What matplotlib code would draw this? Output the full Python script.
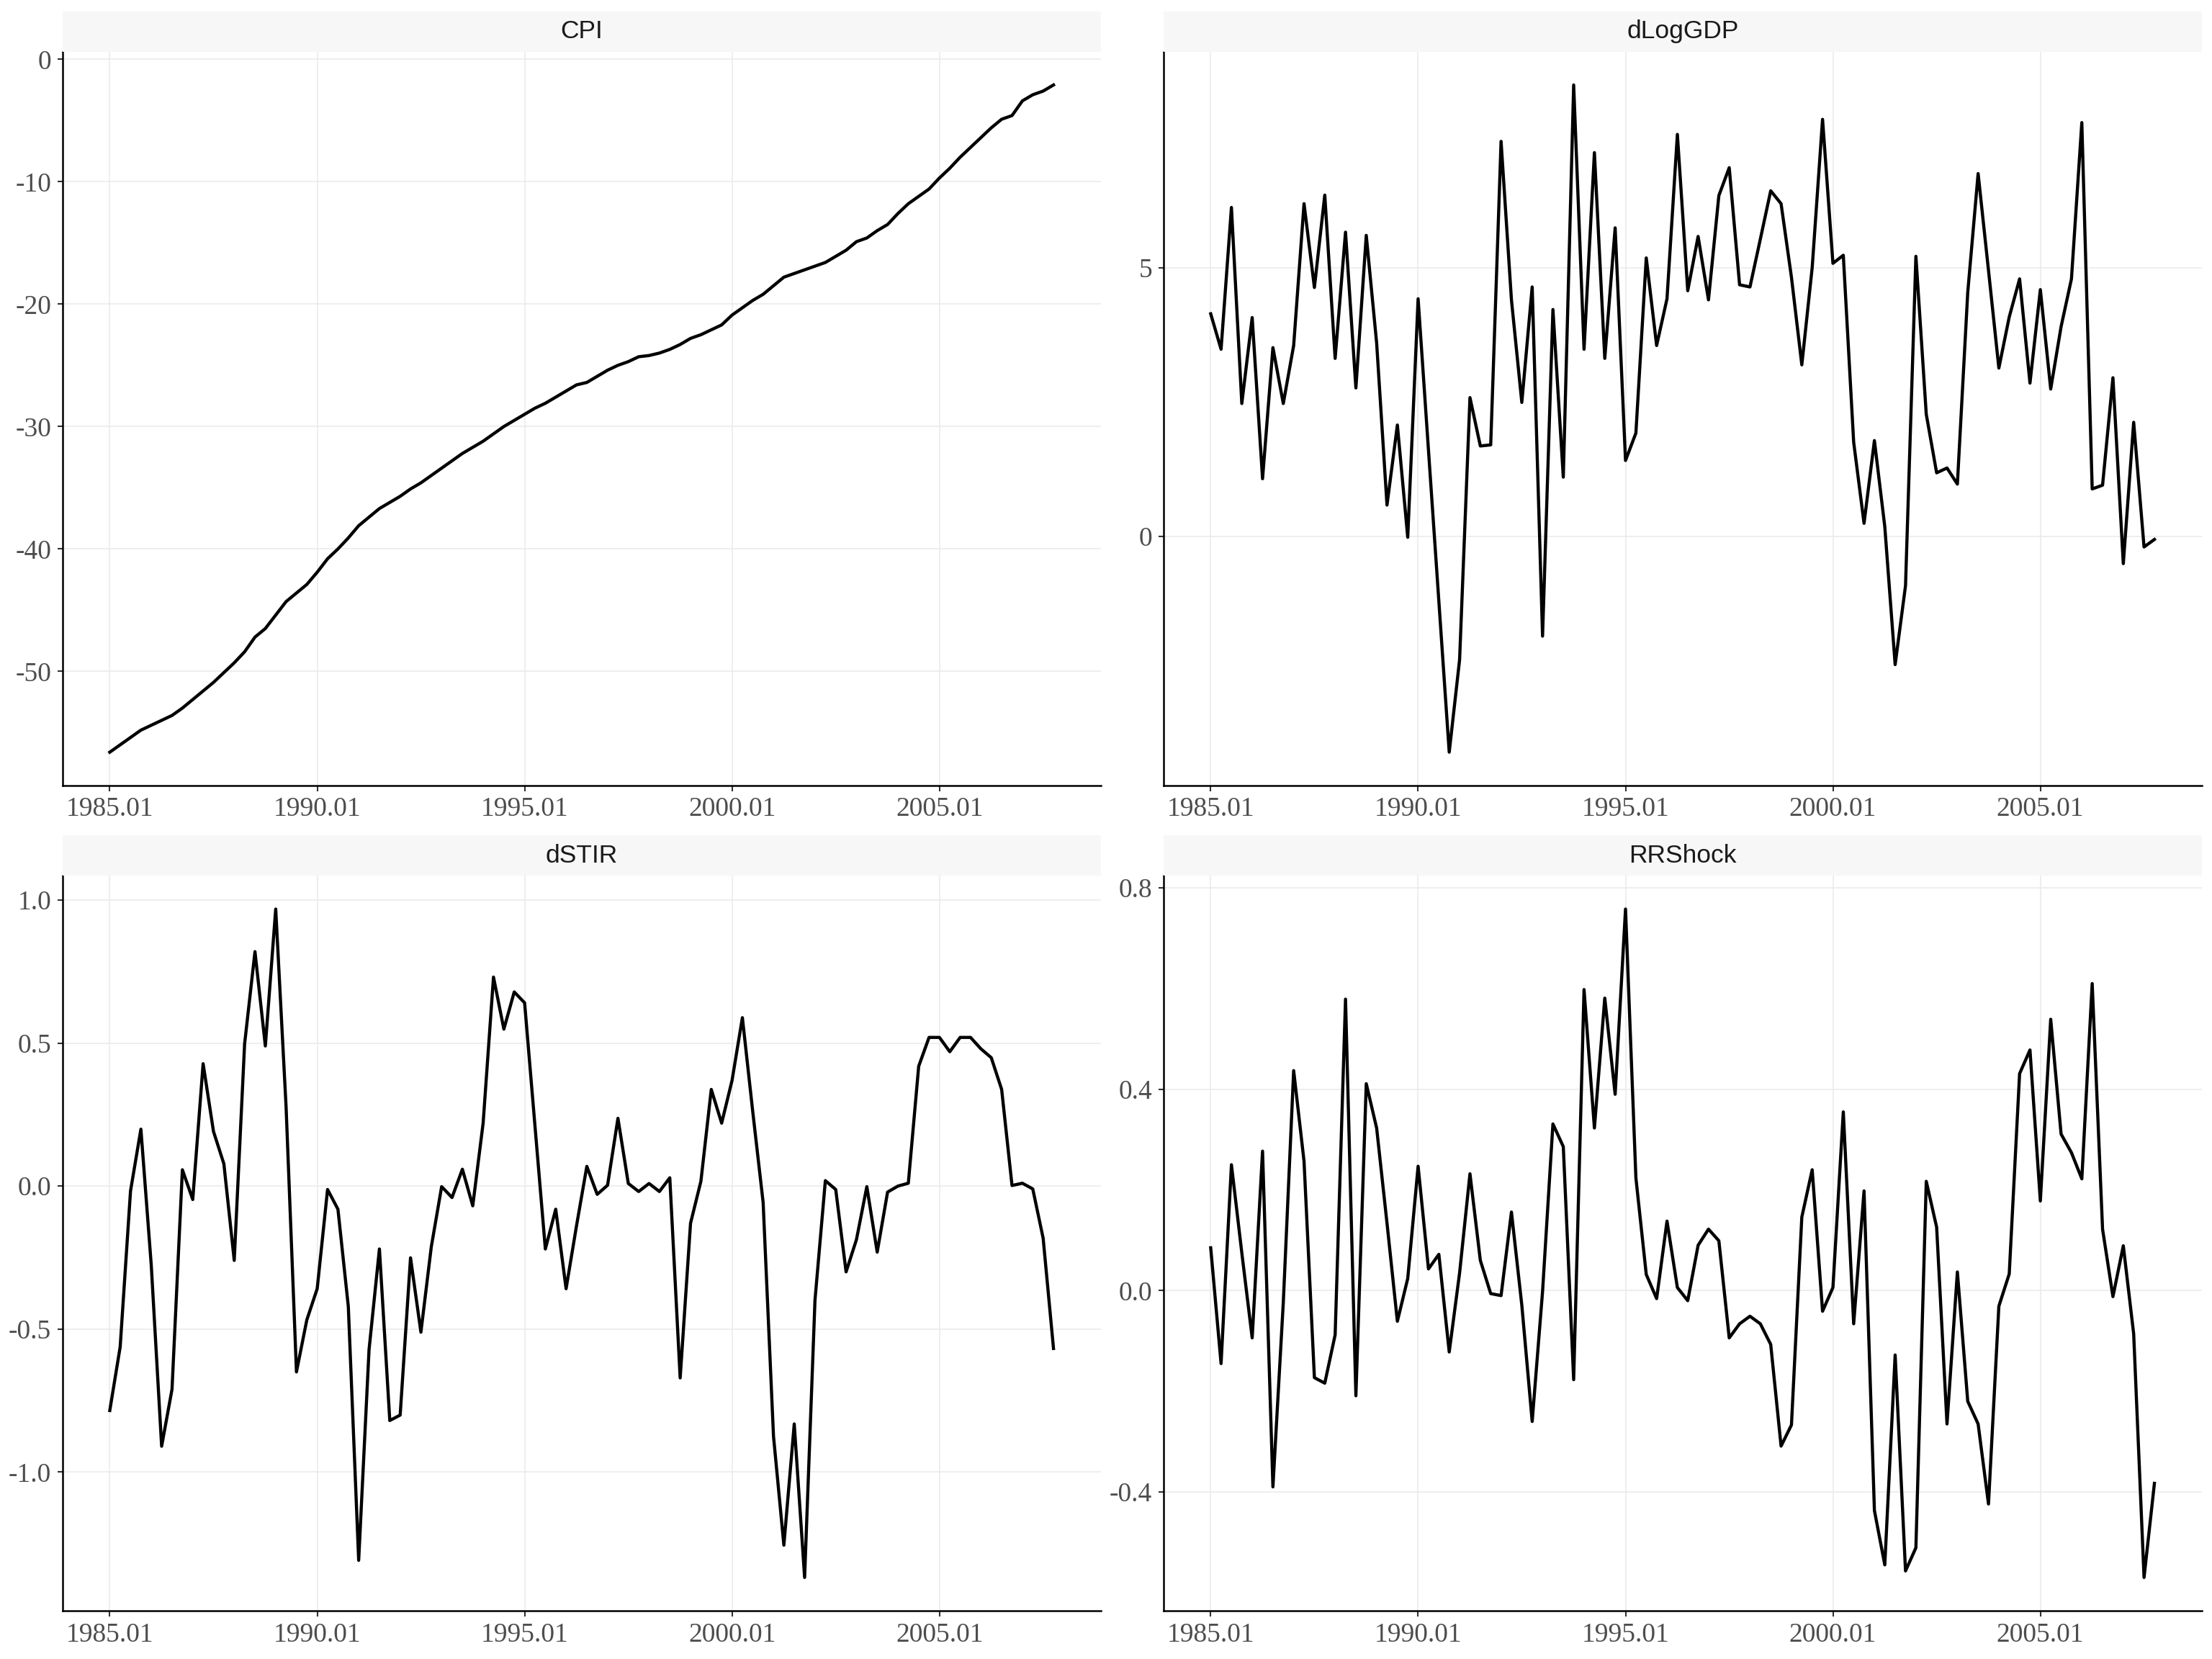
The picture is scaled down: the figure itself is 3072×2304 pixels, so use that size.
import numpy as np
import matplotlib.pyplot as plt

plt.rcParams['axes.unicode_minus'] = False

# quarterly data, 1985Q1 .. 2007Q4
start_year = 1985
n_quarters = 92

cpi = [-56.6, -56.0, -55.4, -54.8, -54.4, -54.0, -53.6, -53.0, -52.3, -51.6,
       -50.9, -50.1, -49.3, -48.4, -47.2, -46.5, -45.4, -44.3, -43.6, -42.9,
       -41.9, -40.8, -40.0, -39.1, -38.1, -37.4, -36.7, -36.2, -35.7, -35.1,
       -34.6, -34.0, -33.4, -32.8, -32.2, -31.7, -31.2, -30.6, -30.0, -29.5,
       -29.0, -28.5, -28.1, -27.6, -27.1, -26.6, -26.4, -25.9, -25.4, -25.0,
       -24.7, -24.3, -24.2, -24.0, -23.7, -23.3, -22.8, -22.5, -22.1, -21.7,
       -20.9, -20.3, -19.7, -19.2, -18.5, -17.8, -17.5, -17.2, -16.9, -16.6,
       -16.1, -15.6, -14.9, -14.6, -14.0, -13.5, -12.6, -11.8, -11.2, -10.6,
       -9.7, -8.9, -8.0, -7.2, -6.4, -5.6, -4.9, -4.6, -3.4, -2.9,
       -2.6, -2.1]

dloggdp = [4.14, 3.48, 6.12, 2.47, 4.07, 1.07, 3.51, 2.47, 3.55, 6.19,
           4.63, 6.35, 3.31, 5.66, 2.76, 5.60, 3.60, 0.58, 2.07, -0.02,
           4.42, 1.60, -1.21, -4.02, -2.30, 2.58, 1.68, 1.70, 7.35, 4.40,
           2.49, 4.64, -1.86, 4.22, 1.10, 8.40, 3.48, 7.14, 3.31, 5.74,
           1.41, 1.92, 5.18, 3.55, 4.42, 7.48, 4.57, 5.58, 4.40, 6.34,
           6.86, 4.68, 4.64, 5.53, 6.43, 6.19, 4.82, 3.19, 5.00, 7.76,
           5.08, 5.23, 1.75, 0.24, 1.78, 0.18, -2.39, -0.92, 5.21, 2.27,
           1.18, 1.27, 0.97, 4.54, 6.75, 4.95, 3.13, 4.08, 4.79, 2.85,
           4.59, 2.74, 3.90, 4.79, 7.70, 0.88, 0.95, 2.95, -0.51, 2.12,
           -0.20, -0.06]

dstir = [-0.785, -0.563, -0.017, 0.199, -0.277, -0.910, -0.711, 0.057, -0.047, 0.428,
         0.191, 0.078, -0.260, 0.497, 0.820, 0.490, 0.969, 0.277, -0.650, -0.468,
         -0.359, -0.012, -0.081, -0.421, -1.309, -0.572, -0.220, -0.820, -0.801, -0.251,
         -0.511, -0.213, -0.002, -0.040, 0.059, -0.069, 0.220, 0.731, 0.549, 0.679,
         0.641, 0.210, -0.220, -0.081, -0.359, -0.140, 0.069, -0.029, 0.003, 0.237,
         0.009, -0.019, 0.009, -0.019, 0.029, -0.671, -0.130, 0.017, 0.338, 0.220,
         0.369, 0.589, 0.260, -0.057, -0.875, -1.256, -0.832, -1.369, -0.399, 0.019,
         -0.012, -0.300, -0.187, -0.002, -0.231, -0.021, 0.000, 0.010, 0.419, 0.520,
         0.520, 0.470, 0.520, 0.520, 0.480, 0.449, 0.338, 0.002, 0.010, -0.010,
         -0.182, -0.568]

rrshock = [0.085, -0.145, 0.250, 0.075, -0.094, 0.277, -0.390, -0.024, 0.437, 0.257,
           -0.173, -0.184, -0.088, 0.579, -0.209, 0.411, 0.323, 0.134, -0.061, 0.024,
           0.247, 0.043, 0.072, -0.122, 0.035, 0.232, 0.060, -0.006, -0.010, 0.156,
           -0.029, -0.260, -0.002, 0.331, 0.286, -0.177, 0.598, 0.323, 0.581, 0.390,
           0.758, 0.224, 0.032, -0.016, 0.138, 0.006, -0.020, 0.090, 0.122, 0.099,
           -0.094, -0.066, -0.051, -0.066, -0.107, -0.309, -0.267, 0.146, 0.240, -0.041,
           0.006, 0.355, -0.066, 0.198, -0.437, -0.545, -0.128, -0.557, -0.511, 0.217,
           0.126, -0.265, 0.037, -0.220, -0.265, -0.424, -0.031, 0.033, 0.431, 0.478,
           0.178, 0.539, 0.311, 0.274, 0.222, 0.610, 0.122, -0.012, 0.089, -0.086,
           -0.570, -0.383]

x_tick_years = [1985, 1990, 1995, 2000, 2005]
x_tick_labels = ['1985.01', '1990.01', '1995.01', '2000.01', '2005.01']

panels = [
    ('CPI', cpi, [-50, -40, -30, -20, -10, 0], ['-50', '-40', '-30', '-20', '-10', '0']),
    ('dLogGDP', dloggdp, [0, 5], ['0', '5']),
    ('dSTIR', dstir, [-1.0, -0.5, 0.0, 0.5, 1.0], ['-1.0', '-0.5', '0.0', '0.5', '1.0']),
    ('RRShock', rrshock, [-0.4, 0.0, 0.4, 0.8], ['-0.4', '0.0', '0.4', '0.8']),
]

t = start_year + np.arange(n_quarters) / 4.0

fig = plt.figure(figsize=(10.24, 7.68), dpi=300)

lefts = [0.0283, 0.526]
width = 0.4693
bottoms = [0.5265, 0.029]
heights = [0.4424, 0.4432]
strip_h = 0.0243

for k, (name, vals, yt, ytl) in enumerate(panels):
    row, col = divmod(k, 2)
    l, b, h = lefts[col], bottoms[row], heights[row]
    ax = fig.add_axes([l, b, width, h])
    ax.plot(t, vals, color='black', lw=1.05)
    ax.margins(x=0.05, y=0.05)
    ax.set_xticks(x_tick_years)
    ax.set_xticklabels(x_tick_labels)
    ax.set_yticks(yt)
    ax.set_yticklabels(ytl)
    ax.grid(True, color='#EBEBEB', lw=0.4)
    ax.set_axisbelow(True)
    for s in ['top', 'right']:
        ax.spines[s].set_visible(False)
    for s in ['left', 'bottom']:
        ax.spines[s].set_color('black')
        ax.spines[s].set_linewidth(0.6)
    ax.tick_params(direction='out', length=1.8, width=0.5, color='#333333',
                   labelcolor='#4D4D4D', labelsize=9, pad=2)
    for lab in ax.get_xticklabels() + ax.get_yticklabels():
        lab.set_family('Liberation Serif')

    # facet strip
    sax = fig.add_axes([l, b + h, width, strip_h])
    sax.set_facecolor('#F7F7F7')
    sax.set_xticks([])
    sax.set_yticks([])
    for s in sax.spines.values():
        s.set_visible(False)
    sax.text(0.5, 0.5, name, ha='center', va='center', fontsize=8.5,
             family='Liberation Sans', color='#1A1A1A', transform=sax.transAxes)

fig.savefig('out.png', dpi=300)
